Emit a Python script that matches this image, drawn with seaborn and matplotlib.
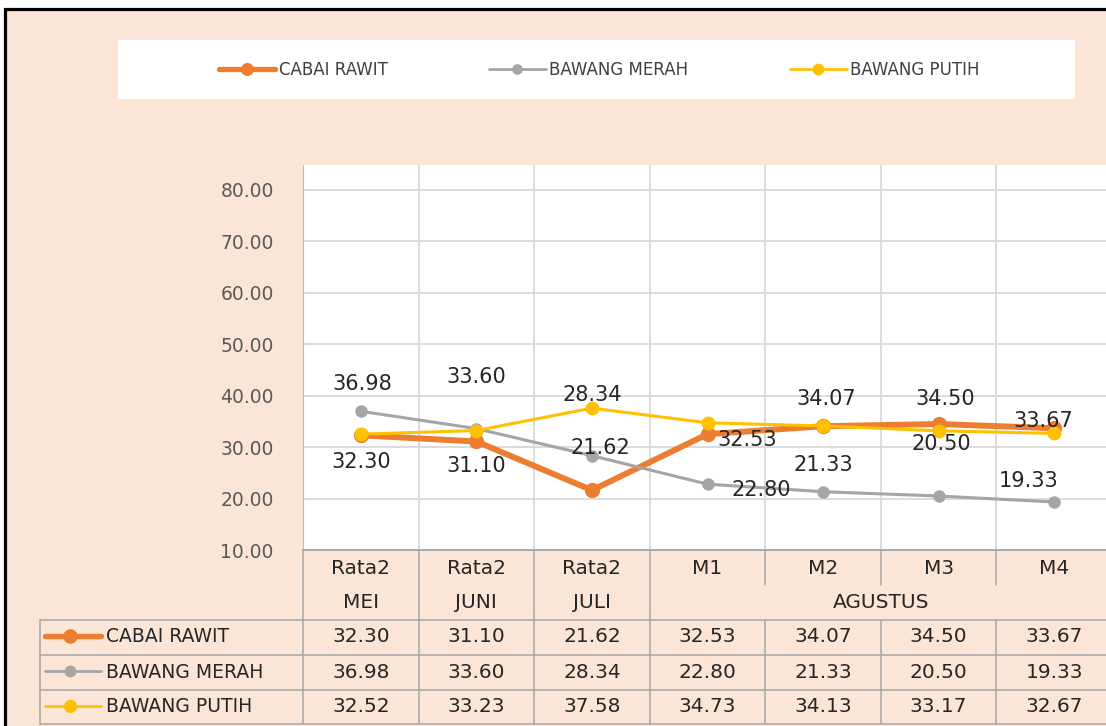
import numpy as np
import pandas as pd
import matplotlib
matplotlib.use("Agg")
import matplotlib.pyplot as plt
import matplotlib.transforms as mtransforms
from matplotlib.lines import Line2D
from matplotlib.patches import Rectangle
import seaborn as sns

# data
periods = ["Rata2 MEI", "Rata2 JUNI", "Rata2 JULI", "M1", "M2", "M3", "M4"]
header_top = ["Rata2", "Rata2", "Rata2", "M1", "M2", "M3", "M4"]
header_month = ["MEI", "JUNI", "JULI"]
header_span = "AGUSTUS"
series_names = ["CABAI RAWIT", "BAWANG MERAH", "BAWANG PUTIH"]
cabai_rawit = [32.30, 31.10, 21.62, 32.53, 34.07, 34.50, 33.67]
bawang_merah = [36.98, 33.60, 28.34, 22.80, 21.33, 20.50, 19.33]
bawang_putih = [32.52, 33.23, 37.58, 34.73, 34.13, 33.17, 32.67]
y_ticks = [10, 20, 30, 40, 50, 60, 70, 80]

df = pd.DataFrame({
    "periode": periods * 3,
    "harga": cabai_rawit + bawang_merah + bawang_putih,
    "komoditas": np.repeat(series_names, len(periods)),
})

# styles
colors = {"CABAI RAWIT": "#ED7D31", "BAWANG MERAH": "#A5A5A5", "BAWANG PUTIH": "#FFC000"}
widths = {"CABAI RAWIT": 4.3, "BAWANG MERAH": 2.2, "BAWANG PUTIH": 2.2}
msizes = {"CABAI RAWIT": 11, "BAWANG MERAH": 9, "BAWANG PUTIH": 10}
peach = "#FBE5D6"
grid_col = "#D9D9D9"
table_col = "#A6A6A6"
txt_col = "#262626"

# offsets (pixels) of the data labels, as they sit in the original
label_offsets = {
    "CABAI RAWIT": [(0, -27), (0, -25), (8, 42), (40, -6), (3, 27), (7, 25), (-11, 7)],
    "BAWANG MERAH": [(1, 27), (0, 52), (0, 61), (54, -6), (0, 27), (3, 52), (-26, 21)],
}

W, H = 1106, 726
sns.set_style("white")
plt.rcParams["font.family"] = ["DejaVu Sans"]

fig = plt.figure(figsize=(W / 100, H / 100), dpi=100)
fig.patch.set_facecolor("white")
fig.patches.append(Rectangle((4.5 / W, -0.05), 1.2, 1.05 - 9 / H, transform=fig.transFigure,
                             facecolor=peach, edgecolor="black", lw=2.3, zorder=0))
fig.patches.append(Rectangle((118 / W, 1 - 99 / H), (1075 - 118) / W, 59 / H,
                             transform=fig.transFigure, facecolor="white", edgecolor="none", zorder=1))

ax_bottom, ax_h = 550, 385
ax = fig.add_axes([303 / W, 1 - ax_bottom / H, (1112 - 303) / W, ax_h / H])
ax.set_zorder(3)
ax.set_facecolor("white")

for name in series_names:
    sub = df[df["komoditas"] == name]
    sns.lineplot(data=sub, x="periode", y="harga", color=colors[name], lw=widths[name],
                 marker="o", markersize=msizes[name], markeredgewidth=0, sort=False, ax=ax)

ax.set_xlim(-0.5, len(periods) - 0.5)
ax.set_ylim(10, 84.86)
ax.set_xticks(np.arange(len(periods) + 1) - 0.5)
ax.set_xticklabels([])
ax.set_yticks(y_ticks)
ax.set_yticklabels([f"{v:.2f}" for v in y_ticks], fontsize=13.5, color="#595959")
ax.tick_params(axis="both", length=0)
ax.tick_params(axis="y", pad=21)
ax.grid(True, color=grid_col, lw=1.3)
ax.set_axisbelow(True)
ax.set_xlabel("")
ax.set_ylabel("")
for s in ["top", "right"]:
    ax.spines[s].set_visible(False)
ax.spines["left"].set_color("#BFBFBF")
ax.spines["bottom"].set_color("#A6A6A6")
ax.spines["bottom"].set_linewidth(1.3)

# data labels
for name, vals in [("CABAI RAWIT", cabai_rawit), ("BAWANG MERAH", bawang_merah)]:
    for i, v in enumerate(vals):
        dx, dy = label_offsets[name][i]
        ax.annotate(f"{v:.2f}", (i, v), xytext=(dx, dy), textcoords="offset pixels",
                    ha="center", va="center", fontsize=15, color=txt_col, zorder=5)

# legend
handles = [Line2D([], [], color=colors[n], lw=widths[n] * 0.9, marker="o",
                  markersize=msizes[n] * 0.85, markeredgewidth=0) for n in series_names]
leg = fig.legend(handles, series_names, ncol=3, loc="center", bbox_to_anchor=(599 / W, 1 - 70 / H),
                 frameon=False, handlelength=3.4, handletextpad=0.2, columnspacing=6.1,
                 prop={"size": 12}, labelcolor="#404040")
leg.set_zorder(4)

# data table under the axis
def ay(px):
    return (ax_bottom - px) / ax_h

tr_cell = mtransforms.blended_transform_factory(ax.transData, ax.transAxes)
tr_row = mtransforms.blended_transform_factory(fig.transFigure, ax.transAxes)
tsize = 14.5

for i, lab in enumerate(header_top):
    ax.text(i, ay(568), lab, transform=tr_cell, ha="center", va="center", fontsize=tsize, color=txt_col)
for i, lab in enumerate(header_month):
    ax.text(i, ay(603), lab, transform=tr_cell, ha="center", va="center", fontsize=tsize, color=txt_col)
ax.text((len(header_month) + len(periods) - 1) / 2, ay(603), header_span, transform=tr_cell,
        ha="center", va="center", fontsize=tsize, color=txt_col)

row_y = [637, 672, 707]
for r, (name, vals) in enumerate(zip(series_names, [cabai_rawit, bawang_merah, bawang_putih])):
    for i, v in enumerate(vals):
        ax.text(i, ay(row_y[r]), f"{v:.2f}", transform=tr_cell, ha="center", va="center",
                fontsize=tsize, color=txt_col)
    ax.text(106 / W, ay(row_y[r]), name, transform=tr_row, ha="left", va="center",
            fontsize=13.5, color=txt_col)
    ax.add_line(Line2D([45 / W, 101 / W], [ay(row_y[r] - 1)] * 2, transform=tr_row,
                       color=colors[name], lw=widths[name] * 0.9, clip_on=False))
    ax.add_line(Line2D([70 / W], [ay(row_y[r] - 1)], transform=tr_row, color=colors[name],
                       marker="o", markersize=msizes[name] * 0.95, markeredgewidth=0, clip_on=False))

# table borders
for y in [620, 655, 690, 724]:
    ax.add_line(Line2D([40 / W, 1.0], [ay(y)] * 2, transform=tr_row, color=table_col, lw=1.1, clip_on=False))
ax.add_line(Line2D([40 / W] * 2, [ay(620), ay(724)], transform=tr_row, color=table_col, lw=1.1, clip_on=False))
for k in range(len(periods)):
    xb = k - 0.5
    ax.add_line(Line2D([xb, xb], [ay(620), ay(724)], transform=tr_cell, color=table_col, lw=1.1, clip_on=False))
    top_end = 620 if k <= len(header_month) else 585
    ax.add_line(Line2D([xb, xb], [ay(550), ay(top_end)], transform=tr_cell, color=table_col, lw=1.1, clip_on=False))

fig.savefig("out.png", dpi=100)
